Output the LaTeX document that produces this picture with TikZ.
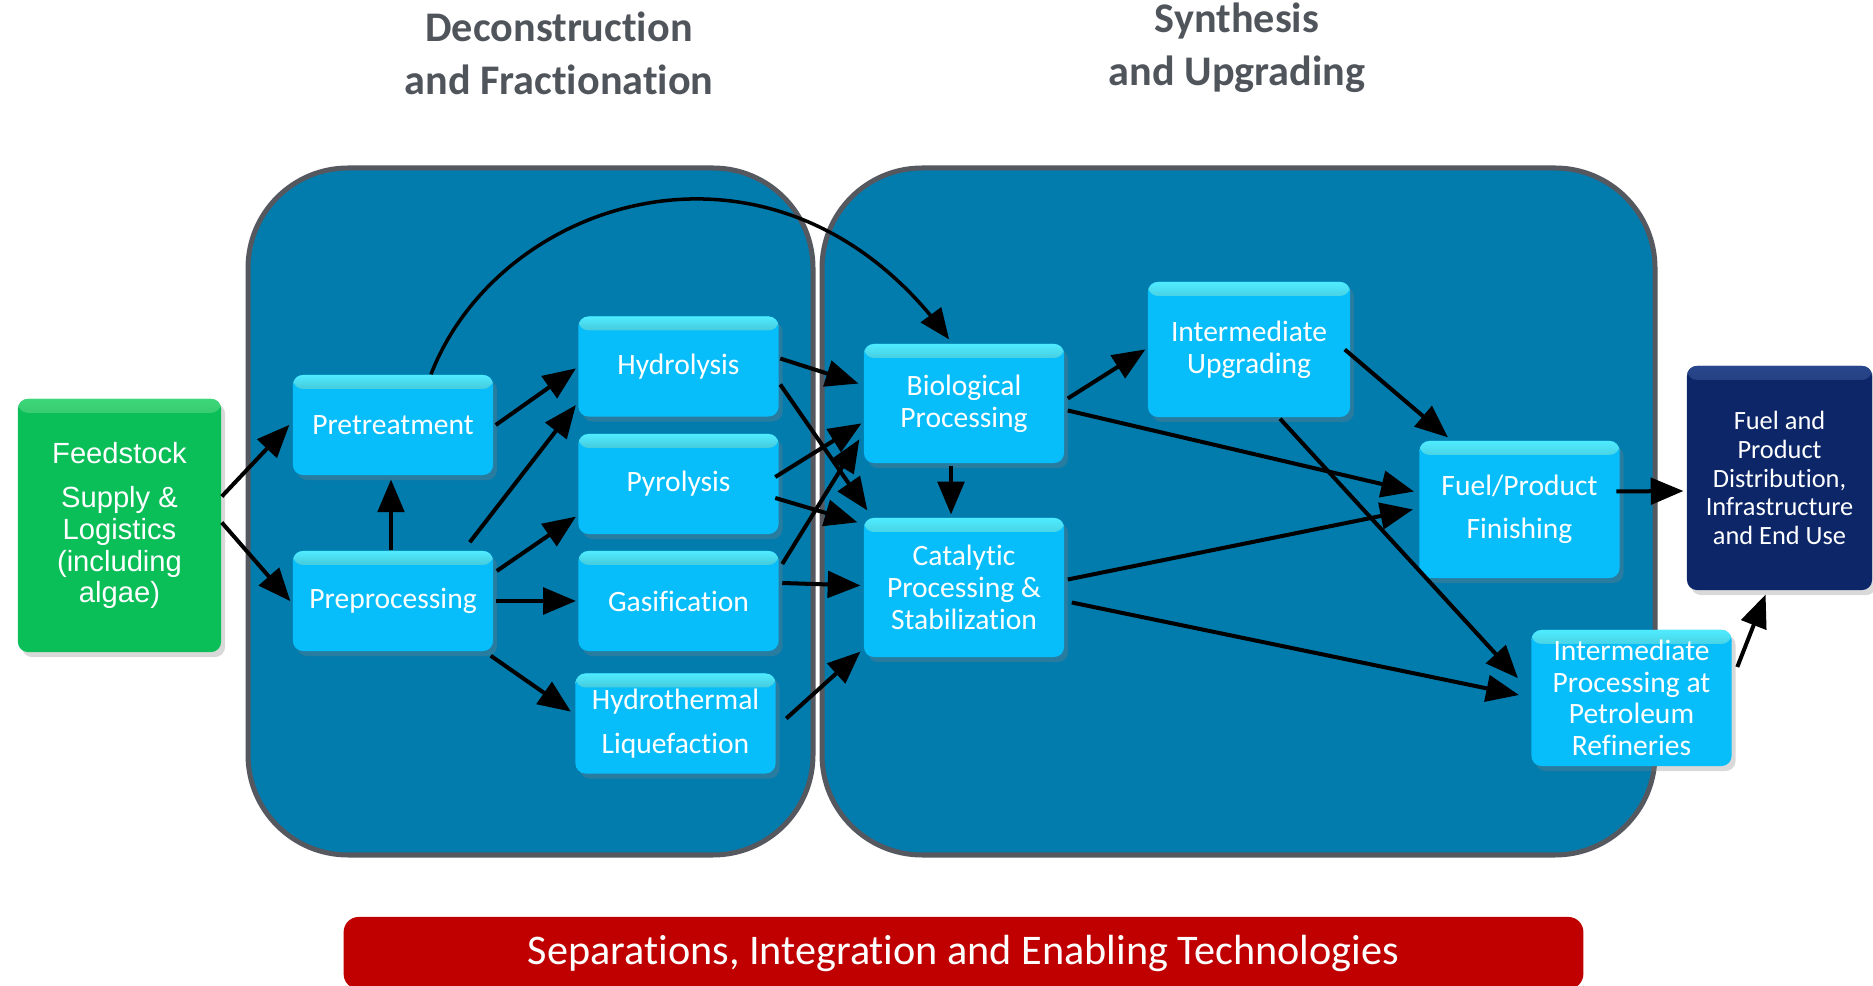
\documentclass[tikz,border=0pt]{standalone}
\usepackage{fontspec}
\setmainfont{Carlito}[Ligatures=NoCommon]
\newfontfamily\arialfont{Liberation Sans}
\usepackage{tikz}
\usetikzlibrary{positioning, calc, arrows, shapes, shadows}
\tikzset{>=triangle 45}
\definecolor{panelblue}{RGB}{2,123,173}
\definecolor{panelline}{RGB}{85,88,95}
\definecolor{boxblue}{RGB}{8,190,250}
\definecolor{boxtop}{RGB}{80,235,255}
\definecolor{feedgreen}{RGB}{10,190,88}
\definecolor{feedtop}{RGB}{60,215,120}
\definecolor{distblue}{RGB}{12,38,104}
\definecolor{disttop}{RGB}{40,70,140}
\definecolor{barred}{RGB}{192,0,0}
\definecolor{titlegray}{RGB}{80,85,92}
\tikzset{stage/.style={draw=panelline, line width=0.5mm, fill=panelblue, rounded corners=10mm}}
\tikzset{glossy/.style={path picture={\shade[top color=#1, bottom color=.] (path picture bounding box.north west) rectangle ([yshift=-1.4mm]path picture bounding box.north east);}}}

\begin{document}
\begin{tikzpicture}
    [x=0.01cm, y=-0.01cm,
      box/.style={fill=boxblue, text=white, align=center, inner sep=0pt, rounded corners=1mm,
        minimum width=20mm, minimum height=10mm, font=\fontsize{8.4}{9}\selectfont,
        drop shadow={opacity=0.3, shadow xshift=0.4mm, shadow yshift=-0.5mm}, glossy=boxtop},
      flow/.style={->, line width=0.4mm},
      heading/.style={align=center, text=titlegray, font=\bfseries\fontsize{12}{15}\selectfont}]

    \useasboundingbox (0,0) rectangle (1873,986);

    \draw[stage] (248,168) rectangle (813,855);
    \draw[stage] (822,168) rectangle (1655,855);

    \node[heading] (decon) at (559,53) {Deconstruction\\ and Fractionation};
    \node[heading] (synth) at (1237,48) {Synthesis\\ and Upgrading};

    \node[box, fill=feedgreen, glossy=feedtop, minimum width=20.3mm, minimum height=25.3mm,
      font=\arialfont\fontsize{8.3}{9}\selectfont]
    (feed) at (119.5,525.5) {Feedstock\\[3.6pt] Supply \&\\ Logistics\\ (including\\ algae)};

    \node[box] (pret) at (393,425) {Pretreatment};
    \node[box] (prep) at (393,601) {Preprocessing};

    \node[box] (hyd) at (678.5,366.5) {Hydrolysis};
    \node[box] (pyr) at (678.5,484) {Pyrolysis};
    \node[box] (gas) at (678.5,601) {Gasification};
    \node[box] (htl) at (675.5,723.5) {Hydrothermal\\[3.6pt] Liquefaction};

    \node[box, minimum height=11.9mm] (bio) at (964,403.5) {Biological\\ Processing};
    \node[box, minimum height=13.9mm] (cat) at (964,587.5) {Catalytic\\ Processing \&\\ Stabilization};
    \node[box, minimum height=13.5mm, minimum width=20.2mm] (iup) at (1249,349.5) {Intermediate\\ Upgrading};
    \node[box, minimum height=13.7mm] (fin) at (1519.5,509.5) {Fuel/Product\\[3.3pt] Finishing};
    \node[box, minimum height=13.6mm] (ref) at (1631.5,698) {Intermediate\\ Processing at\\ Petroleum\\ Refineries};

    \node[box, fill=distblue, glossy=disttop, minimum width=18.5mm, minimum height=22.4mm,
      font=\fontsize{7.5}{8.2}\selectfont]
    (dist) at (1779.5,478) {Fuel and\\ Product\\ Distribution,\\ Infrastructure\\ and End Use};

    \node[fill=barred, text=white, rounded corners=1.5mm, minimum width=123.9mm, minimum height=7.2mm,
      font=\fontsize{12}{14}\selectfont]
    (sep) at (963.5,953) {Separations, Integration and Enabling Technologies};

    \draw[flow] ($(feed.east)+(0,-29)$) -- ($(pret.west)+(-3,0)$);
    \draw[flow] ($(feed.east)+(0,-3)$) -- ($(prep.west)+(-2,0)$);
    \draw[flow] ($(prep.north)+(-2,0)$) -- ($(pret.south)+(-2,4)$);

    \draw[flow] ($(pret.east)+(2,0)$) -- ($(hyd.west)+(-2,2)$);
    \draw[flow] ($(prep.north east)+(-24,-8)$) -- ($(hyd.south west)+(-2,-12)$);
    \draw[flow] ($(prep.east)+(3,-30)$) -- ($(pyr.south west)+(-2,-18)$);
    \draw[flow] ($(prep.east)+(2,0)$) -- ($(gas.west)+(-2,0)$);
    \draw[flow] ($(prep.south east)+(-3,4)$) -- ($(htl.west)+(-4,-12)$);

    \draw[flow, line width=0.35mm] ($(pret.north)+(38,0)$) .. controls +(70,-180) and +(-170,-230) .. ($(bio.north)+(-15,-4)$);

    \draw[flow] ($(hyd.east)+(1,-8)$) -- ($(bio.west)+(-5,-20)$);
    \draw[flow] ($(hyd.east)+(1,18)$) -- ($(cat.north west)+(4,-7)$);
    \draw[flow] ($(pyr.east)+(-4,-7)$) -- ($(bio.west)+(-2,20)$);
    \draw[flow] ($(pyr.east)+(-4,14)$) -- ($(cat.north west)+(-6,5)$);
    \draw[flow] ($(gas.east)+(3,-37)$) -- ($(bio.west)+(-4,36)$);
    \draw[flow] ($(gas.east)+(3,-18)$) -- ($(cat.west)+(-3,-2)$);
    \draw[flow] ($(htl.east)+(10,-5)$) -- ($(cat.south west)+(-3,-6)$);

    \draw[flow] ($(bio.south)+(-13,2)$) -- ($(cat.north)+(-13,-3)$);
    \draw[flow] ($(bio.east)+(3,-5)$) -- ($(iup.west)+(-2,0)$);
    \draw[flow] ($(bio.east)+(3,7)$) -- ($(fin.west)+(-5,-18)$);
    \draw[flow] ($(iup.east)+(-6,0)$) -- ($(fin.north west)+(29,-3)$);
    \draw[flow] ($(iup.south)+(31,1)$) -- ($(ref.west)+(-13,-20)$);
    \draw[flow] ($(cat.east)+(3,-8)$) -- ($(fin.west)+(-6,0)$);
    \draw[flow] ($(cat.east)+(7,15)$) -- ($(ref.west)+(-12,-3)$);

    \draw[flow] ($(fin.east)+(-4,-18)$) -- ($(dist.west)+(-3,13)$);
    \draw[flow] ($(ref.east)+(5,-31)$) -- ($(dist.south)+(-14,4)$);
  \end{tikzpicture}
\end{document}
